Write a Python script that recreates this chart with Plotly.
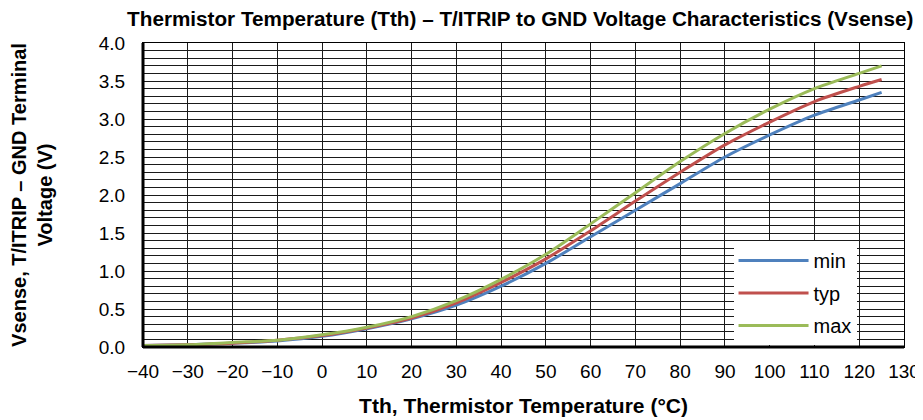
import plotly.graph_objects as go

temps = [-40, -30, -20, -10, 0, 10, 20, 30, 40, 50, 60, 70, 80, 90, 100, 110, 120, 125]
v_min = [0.02, 0.03, 0.05, 0.08, 0.14, 0.24, 0.37, 0.55, 0.80, 1.10, 1.45, 1.80, 2.15, 2.50, 2.79, 3.05, 3.25, 3.35]
v_typ = [0.02, 0.03, 0.05, 0.09, 0.15, 0.25, 0.38, 0.58, 0.85, 1.16, 1.53, 1.92, 2.30, 2.66, 2.96, 3.23, 3.43, 3.52]
v_max = [0.02, 0.03, 0.06, 0.09, 0.16, 0.26, 0.40, 0.61, 0.89, 1.22, 1.62, 2.03, 2.44, 2.81, 3.13, 3.40, 3.60, 3.70]
series_names = ["min", "typ", "max"]
colors = ["#4F81BD", "#C0504D", "#9BBB59"]

FONT = "Liberation Sans, Arial, Helvetica, sans-serif"

fig = go.Figure()
for i, (name, vals) in enumerate(zip(series_names, [v_min, v_typ, v_max])):
    fig.add_trace(go.Scatter(
        x=temps, y=vals, mode="lines", name=name,
        line=dict(color=colors[i], width=3, shape="spline", smoothing=0.8),
        legendgroup=name,
    ))

grid_col = "#1a1a1a"
fig.update_layout(
    width=923, height=420,
    # page body has an 8px offset; margins compensate
    margin=dict(l=135, r=27, t=35, b=81),
    paper_bgcolor="white", plot_bgcolor="white",
    font=dict(family=FONT, size=19, color="black"),
    title=dict(
        text="<b>Thermistor Temperature (Tth) – T/ITRIP to GND Voltage Characteristics (Vsense)</b>",
        font=dict(size=20.7), x=0.555, xanchor="center", y=0.975, yanchor="middle",
    ),
    showlegend=True,
    legend=dict(
        x=0.776, y=0.349, xanchor="left", yanchor="top",
        bgcolor="white", borderwidth=0,
        font=dict(size=20), itemwidth=70, tracegroupgap=3.5,
        entrywidth=135, entrywidthmode="pixels",
    ),
    xaxis=dict(
        range=[-40, 130], dtick=10, tick0=-40,
        showgrid=True, gridcolor=grid_col, gridwidth=1,
        showline=True, linecolor="black", linewidth=1, mirror=True,
        ticks="", ticklabelstandoff=7, automargin=False,
        zeroline=False,
        title=dict(text="<b>Tth, Thermistor Temperature (°C)</b>", font=dict(size=21), standoff=17),
    ),
    yaxis=dict(
        range=[0, 4], dtick=0.5, tick0=0, tickformat=".1f",
        showgrid=True, gridcolor=grid_col, gridwidth=1,
        minor=dict(dtick=0.1, showgrid=True, gridcolor=grid_col, gridwidth=1),
        showline=True, linecolor="black", linewidth=1, mirror=True,
        ticks="", ticklabelstandoff=13, automargin=False,
        zeroline=False,
        title=dict(text="<b>Vsense, T/ITRIP – GND Terminal<br>Voltage (V)</b>", font=dict(size=20), standoff=45),
    ),
)

# thicker left and bottom axis lines
fig.add_shape(type="line", xref="paper", yref="paper", x0=0, x1=0, y0=0, y1=1,
              line=dict(color="black", width=3))
fig.add_shape(type="line", xref="paper", yref="paper", x0=0, x1=1, y0=0, y1=0,
              line=dict(color="black", width=3))

fig.write_html("out.html")
